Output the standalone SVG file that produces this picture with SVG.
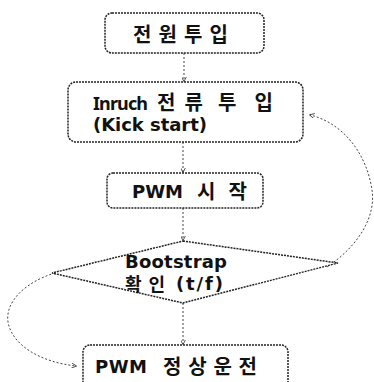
<svg xmlns="http://www.w3.org/2000/svg" width="374" height="382" viewBox="0 0 374 382">
<style>
.n{fill:#fff;stroke:#222;stroke-width:1.5;stroke-dasharray:2 1}
.t{font-family:"DejaVu Sans","Noto Sans CJK KR",sans-serif;font-weight:bold;font-size:18px;fill:#111}
.k{font-family:"Noto Sans CJK KR",sans-serif;font-weight:bold;font-size:20px;fill:#111}
.c{fill:none;stroke:#444;stroke-width:1;stroke-dasharray:2 2}
</style>
<defs>
<marker id="a" viewBox="0 0 8 8" refX="7" refY="4" markerWidth="5" markerHeight="5" orient="auto"><path d="M0,0 L8,4 L0,8" fill="none" stroke="#333" stroke-width="1.3"/></marker>
</defs>
<rect width="374" height="382" fill="#fff"/>
<g id="connectors">
<line class="c" x1="184" y1="53" x2="184" y2="81" marker-end="url(#a)"/>
<line class="c" x1="183" y1="142" x2="183" y2="172" marker-end="url(#a)"/>
<line class="c" x1="183" y1="208" x2="183" y2="240" marker-end="url(#a)"/>
<line class="c" x1="183" y1="303" x2="183" y2="344" marker-end="url(#a)"/>
<path class="c" d="M327,267 C360,245 376,215 372,190 C366,150 340,122 310,115" marker-end="url(#a)"/>
<path class="c" d="M55,273 C25,282 5,302 8,322 C12,345 40,362 76,366" marker-end="url(#a)"/>
</g>
<g id="n1">
<rect class="n" x="105" y="13" width="159" height="40" rx="7"/>
<text class="k" x="133" y="42" textLength="95" lengthAdjust="spacing">전원투입</text>
</g>
<g id="n2">
<rect class="n" x="68" y="82" width="235" height="60" rx="8"/>
<text class="t" x="93" y="110" style="font-family:'Noto Sans',sans-serif" textLength="55">Inruch</text>
<text class="k" x="157" y="110" font-size="19" textLength="46" lengthAdjust="spacing">전류</text>
<text class="k" x="218" y="110" font-size="19" textLength="55" lengthAdjust="spacing">투입</text>
<text class="t" x="93" y="131" textLength="114">(Kick start)</text>
</g>
<g id="n3">
<rect class="n" x="107" y="173" width="156" height="35" rx="6"/>
<text class="t" x="132" y="198" textLength="51">PWM</text>
<text class="k" x="197" y="199" textLength="50" lengthAdjust="spacing">시작</text>
</g>
<g id="n4">
<polygon class="n" points="183,241 338,263 183,303 52,273"/>
<text class="t" x="125" y="268" font-size="17" textLength="102">Bootstrap</text>
<text class="t" x="125" y="291" font-size="19" textLength="40" lengthAdjust="spacing">확인</text>
<text class="t" x="176" y="290" textLength="47">(t/f)</text>
</g>
<g id="n5">
<rect class="n" x="83" y="345" width="205" height="50" rx="7"/>
<text class="t" x="95" y="373" textLength="52">PWM</text>
<text class="k" x="163" y="374" textLength="94" lengthAdjust="spacing">정상운전</text>
</g>
</svg>
